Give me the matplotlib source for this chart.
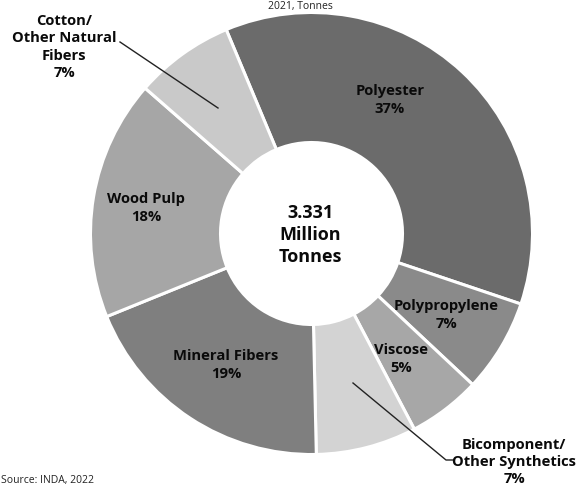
import matplotlib
matplotlib.use("Agg")
import matplotlib.pyplot as plt

# nonwovens fiber consumption, thousand tonnes (2021)
fibers = ["Polyester", "Polypropylene", "Viscose", "Bicomponent/\nOther Synthetics",
          "Mineral Fibers", "Wood Pulp", "Cotton/\nOther Natural\nFibers"]
tonnes = [1215, 227, 177, 245, 640, 585, 242]
pct_labels = ["37%", "7%", "5%", "7%", "19%", "18%", "7%"]
colors = ["#6b6b6b", "#8a8a8a", "#a7a7a7", "#d3d3d3", "#7f7f7f", "#a6a6a6", "#c9c9c9"]
total_label = "3.331\nMillion\nTonnes"

W, H = 581, 488
fig = plt.figure(figsize=(W / 100, H / 100), dpi=100)
ax = fig.add_axes([0, 0, 1, 1])
ax.set_xlim(0, W)
ax.set_ylim(-H, 0)
ax.axis("off")

cx, cy, R = 311.5, -233.5, 221
ax.pie(tonnes, colors=colors, startangle=112.7, counterclock=False,
       center=(cx, cy), radius=R,
       wedgeprops=dict(width=R - 91, edgecolor="white", linewidth=2.2))
ax.set_xlim(0, W)
ax.set_ylim(-H, 0)

fam = ["Open Sans", "DejaVu Sans"]
font = dict(family=fam, fontweight="bold", fontsize=10.6,
            ha="center", va="center", color="#0a0a0a", linespacing=1.3)

# label placement (pixel positions of the reference)
inside = {0: (390, 100), 1: (446, 315), 2: (401, 359), 4: (226, 365), 5: (146, 208)}
for i, (x, y) in inside.items():
    ax.text(x, -y, fibers[i] + "\n" + pct_labels[i], **font)

# callouts for the narrow slices
ax.text(64, -47, fibers[6] + "\n" + pct_labels[6], **font)
ax.plot([120, 218], [-42, -108], color="#222222", lw=1)
ax.text(514, -462, fibers[3] + "\n" + pct_labels[3], **font)
ax.plot([353, 446, 453], [-383, -460, -460], color="#222222", lw=1)

ax.text(cx - 1, -235, total_label, family=fam, fontweight="bold",
        fontsize=13, ha="center", va="center", color="#0a0a0a", linespacing=1.3)

ax.text(300, -0.5, "2021, Tonnes", family=fam, fontsize=7.5,
        ha="center", va="top", color="#222222")
ax.text(1, -480, "Source: INDA, 2022", family=fam, fontsize=7.5,
        ha="left", va="center", color="#222222")

fig.savefig("out.png", dpi=100, facecolor="white")
